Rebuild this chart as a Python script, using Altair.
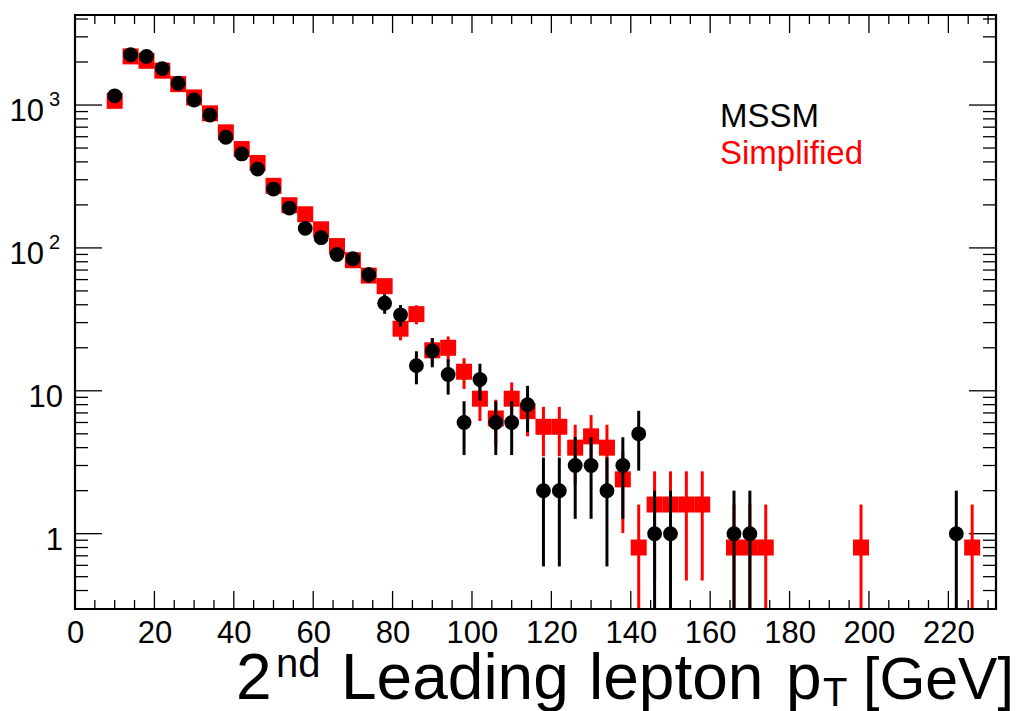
import altair as alt
import pandas as pd
import numpy as np

# ---------------- data ----------------
mssm_x = [10, 14, 18, 22, 26, 30, 34, 38, 42, 46, 50, 54, 58, 62, 66, 70, 74, 78,
          82, 86, 90, 94, 98, 102, 106, 110, 114, 118, 122, 126, 130, 134, 138, 142,
          146, 150, 166, 170, 222]
mssm_y = [1160, 2250, 2190, 1800, 1420, 1085, 850, 595, 455, 356, 258, 190, 137, 118,
          90, 84, 65, 41, 34, 15, 19, 13, 6, 12, 6, 6, 8, 2, 2, 3, 3, 2, 3, 5,
          1, 1, 1, 1, 1]
mssm_err = [34, 47, 47, 42, 38, 33, 29, 24, 21, 19, 16, 14, 12, 11, 9.5, 9.2, 8.1, 6.4,
            5.8, 3.9, 4.4, 3.6, 2.45, 3.46, 2.45, 2.45, 2.83, 1.41, 1.41, 1.73, 1.73,
            1.41, 1.73, 2.24, 1, 1, 1, 1, 1]

simp_x = [10, 14, 18, 22, 26, 30, 34, 38, 42, 46, 50, 54, 58, 62, 66, 70, 74, 78,
          82, 86, 90, 94, 98, 102, 106, 110, 114, 118, 122, 126, 130, 134, 138, 142,
          146, 150, 154, 158, 166, 170, 174, 198, 226]
simp_y = [1070, 2190, 2040, 1740, 1400, 1130, 875, 644, 492, 393, 272, 199, 172, 135,
          103, 82, 64, 54, 27.2, 34.4, 19.2, 20, 13.6, 8.8, 6.4, 8.8, 7.2, 5.6, 5.6,
          4.0, 4.8, 4.0, 2.4, 0.8, 1.6, 1.6, 1.6, 1.6, 0.8, 0.8, 0.8, 0.8, 0.8]
simp_err = [29, 42, 40, 37, 33, 30, 26, 23, 20, 18, 15, 12.6, 11.7, 10.4, 9.1, 8.1, 7.2,
            6.6, 4.66, 5.25, 3.92, 4.0, 3.3, 2.65, 2.26, 2.65, 2.4, 2.12, 2.12, 1.79,
            1.96, 1.79, 1.39, 0.8, 1.13, 1.13, 1.13, 1.13, 0.8, 0.8, 0.8, 0.8, 0.8]

x_major = [0, 20, 40, 60, 80, 100, 120, 140, 160, 180, 200, 220]
x_minor = [5, 10, 15, 25, 30, 35, 45, 50, 55, 65, 70, 75, 85, 90, 95, 105, 110, 115,
           125, 130, 135, 145, 150, 155, 165, 170, 175, 185, 190, 195, 205, 210, 215,
           225, 230]
y_major = [1, 10, 100, 1000]
y_minor = [0.4, 0.5, 0.6, 0.7, 0.8, 0.9, 2, 3, 4, 5, 6, 7, 8, 9, 20, 30, 40, 50, 60,
           70, 80, 90, 200, 300, 400, 500, 600, 700, 800, 900, 2000, 3000, 4000]

# y tick labels: mantissa text and exponent text
ylab_plain_val = [1, 10]
ylab_plain_txt = ["1", "10"]
ylab_exp_val = [100, 1000]
ylab_exp_base = ["10", "10"]
ylab_exp_pow = ["2", "3"]

# ---------------- layout ----------------
W, H = 921, 594
FONT = "Liberation Sans, Arimo, Helvetica, Arial, sans-serif"
YMIN, YMAX = 0.297, 4267

xscale = alt.Scale(domain=[0, 232], nice=False, zero=False)
yscale = alt.Scale(type="log", domain=[YMIN, YMAX], nice=False)

xaxis = alt.Axis(values=x_major, title=None, ticks=False, domain=False, grid=False,
                 labelFont=FONT, labelFontSize=31, labelColor="black", labelPadding=9,
                 labelFlush=False, labelOverlap=False)


def X(field):
    return alt.X(field, type="quantitative", scale=xscale, axis=xaxis)


def Y(field):
    return alt.Y(field, type="quantitative", scale=yscale, axis=None)


def frame(x, y, err):
    df = pd.DataFrame({"x": x, "y": y, "err": err})
    df["lo"] = np.maximum(df["y"] - df["err"], YMIN)
    df["hi"] = np.minimum(df["y"] + df["err"], YMAX)
    return df


mssm = frame(mssm_x, mssm_y, mssm_err)
simp = frame(simp_x, simp_y, simp_err)

RED = "#ff0000"

simp_bars = alt.Chart(simp).mark_rule(color=RED, strokeWidth=3).encode(
    x=X("x"), y=Y("lo"), y2="hi")
simp_pts = alt.Chart(simp).mark_point(shape="square", filled=True, color=RED,
                                      size=256, opacity=1).encode(x=X("x"), y=Y("y"))
mssm_bars = alt.Chart(mssm).mark_rule(color="black", strokeWidth=3).encode(
    x=X("x"), y=Y("lo"), y2="hi")
mssm_pts = alt.Chart(mssm).mark_point(shape="circle", filled=True, color="black",
                                      size=220, opacity=1).encode(x=X("x"), y=Y("y"))

# ---------------- inward ticks on all four sides ----------------
xmaj = pd.DataFrame({"x": x_major})
xmin = pd.DataFrame({"x": x_minor})
ymaj = pd.DataFrame({"y": y_major})
ymin = pd.DataFrame({"y": y_minor})
TC = "black"
TW = 1.3
ticks = [
    alt.Chart(xmaj).mark_rule(color=TC, strokeWidth=TW).encode(x=X("x"), y=alt.value(H), y2=alt.value(H - 18)),
    alt.Chart(xmaj).mark_rule(color=TC, strokeWidth=TW).encode(x=X("x"), y=alt.value(0), y2=alt.value(18)),
    alt.Chart(xmin).mark_rule(color=TC, strokeWidth=TW).encode(x=X("x"), y=alt.value(H), y2=alt.value(H - 9)),
    alt.Chart(xmin).mark_rule(color=TC, strokeWidth=TW).encode(x=X("x"), y=alt.value(0), y2=alt.value(9)),
    alt.Chart(ymaj).mark_rule(color=TC, strokeWidth=TW).encode(y=Y("y"), x=alt.value(0), x2=alt.value(27)),
    alt.Chart(ymaj).mark_rule(color=TC, strokeWidth=TW).encode(y=Y("y"), x=alt.value(W), x2=alt.value(W - 27)),
    alt.Chart(ymin).mark_rule(color=TC, strokeWidth=TW).encode(y=Y("y"), x=alt.value(0), x2=alt.value(13)),
    alt.Chart(ymin).mark_rule(color=TC, strokeWidth=TW).encode(y=Y("y"), x=alt.value(W), x2=alt.value(W - 13)),
]

# plot frame
border = alt.Chart(pd.DataFrame({"k": [0]})).mark_rect(
    fill=None, fillOpacity=0, stroke="black", strokeWidth=2.2
).encode(x=alt.value(0), x2=alt.value(W), y=alt.value(0), y2=alt.value(H))

# y-axis labels drawn through the y scale
ylab_plain = alt.Chart(pd.DataFrame({"y": ylab_plain_val, "t": ylab_plain_txt})).mark_text(
    align="right", baseline="alphabetic", font=FONT, fontSize=31, color="black", dy=16
).encode(y=Y("y"), x=alt.value(-12), text="t:N")
ylab_base = alt.Chart(pd.DataFrame({"y": ylab_exp_val, "t": ylab_exp_base})).mark_text(
    align="right", baseline="alphabetic", font=FONT, fontSize=31, color="black", dy=16
).encode(y=Y("y"), x=alt.value(-31), text="t:N")
ylab_pow = alt.Chart(pd.DataFrame({"y": ylab_exp_val, "t": ylab_exp_pow})).mark_text(
    align="left", baseline="alphabetic", font=FONT, fontSize=20, color="black", dy=1
).encode(y=Y("y"), x=alt.value(-26), text="t:N")


# ---------------- texts ----------------
def txt(s, x, y, size, color="black"):
    return alt.Chart(pd.DataFrame({"t": [s]})).mark_text(
        align="left", baseline="alphabetic", font=FONT, fontSize=size, color=color
    ).encode(text="t:N", x=alt.value(x), y=alt.value(y))


texts = [
    txt("MSSM", 645, 112, 33),
    txt("Simplified", 645, 149, 33, RED),
    txt("2", 161, 684, 64),
    txt("nd", 201, 662, 40),
    txt("Leading", 266, 684, 64),
    txt("lepton", 514, 684, 64),
    txt("p", 711, 684, 64),
    txt("T", 748, 691, 40),
    txt("[GeV]", 788, 684, 59),
]

chart = alt.layer(*ticks, simp_bars, simp_pts, mssm_bars, mssm_pts, border,
                  ylab_plain, ylab_base, ylab_pow, *texts).properties(
    width=W, height=H,
    autosize=alt.AutoSizeParams(type="none"),
    padding={"left": 75, "top": 15, "right": 24, "bottom": 102},
).configure_view(stroke=None).configure(background="white")

chart.save("out.html", embed_options={"renderer": "svg", "actions": False})
